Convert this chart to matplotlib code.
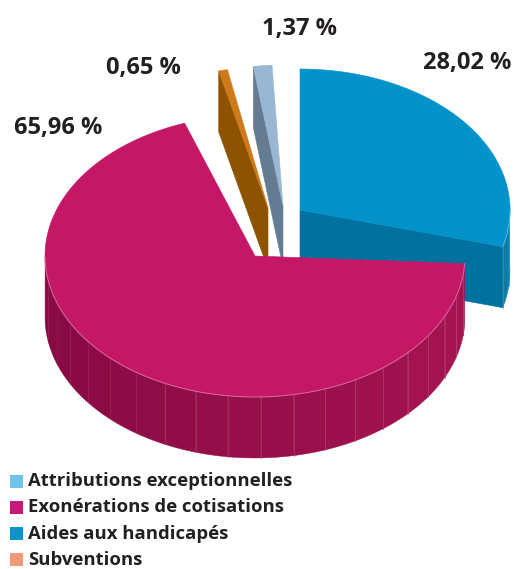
"""Exploded 3D pie: répartition des aides (recreated with plain matplotlib patches)."""

import numpy as np
import matplotlib

matplotlib.use("Agg")
import matplotlib.pyplot as plt
from matplotlib.colors import to_rgb
from matplotlib.patches import Polygon, Rectangle

# data
categories = [
    "Aides aux handicapés",
    "Exonérations de cotisations",
    "Subventions",
    "Attributions exceptionnelles",
]
shares = [28.02, 65.96, 0.65, 1.37]
value_labels = ["28,02 %", "65,96 %", "0,65 %", "1,37 %"]
legend_names = [
    "Attributions exceptionnelles",
    "Exonérations de cotisations",
    "Aides aux handicapés",
    "Subventions",
]
legend_colors = ["#6EC5E8", "#C8197A", "#0A93CE", "#F2997A"]

# pie look (pixels, y grows downward)
CENTER = (280.0, 232.0)
RX, RY, DEPTH = 210.0, 141.0, 61.0
slice_shift = [(20, -22), (-25, 24), (-12, -24), (3, -26)]
slice_fan = [0.0, 12.0, 6.0, 3.0]
top_colors = ["#0392C9", "#C41766", "#CE7A1B", "#99B7D2"]
face_colors = ["#01729F", "#8E0C46", "#8D5300", "#657B92"]
wall_dark = ["#04709A", "#880A43", "#7A4700", "#56697D"]
wall_light = ["#0B7DA8", "#A51451", "#8D5300", "#657B92"]
label_pos = [(467, 63), (58, 128), (143, 68), (300, 29)]

FONT = "Open Sans"
TEXT_COLOR = "#231F20"


def _pt(cx, cy, t_deg, z=0.0):
    t = np.radians(t_deg)
    return cx + RX * np.cos(t), cy - RY * np.sin(t) + z


def _mix(c1, c2, w):
    a, b = np.array(to_rgb(c1)), np.array(to_rgb(c2))
    return tuple(a * (1 - w) + b * w)


def _slice_spans():
    total = float(sum(shares))
    spans = []
    start = 90.0
    for i, value in enumerate(shares):
        width = value / total * 360.0
        hi = start
        lo = start - width
        start = lo
        spans.append((lo + slice_fan[i], hi + slice_fan[i]))
    return spans


def draw_slice(ax, i, lo, hi, z0):
    cx = CENTER[0] + slice_shift[i][0]
    cy = CENTER[1] + slice_shift[i][1]
    apex = (cx, cy)
    apex_low = (cx, cy + DEPTH)
    z = z0

    # radial faces turned toward the viewer
    for t, normal_y in ((lo, -np.cos(np.radians(lo))), (hi, np.cos(np.radians(hi)))):
        if normal_y < -1e-3:
            p = _pt(cx, cy, t)
            q = _pt(cx, cy, t, DEPTH)
            ax.add_patch(Polygon([apex, p, q, apex_low], closed=True,
                                 facecolor=face_colors[i], edgecolor=face_colors[i],
                                 linewidth=0.4, zorder=z))
            z += 1

    # outer wall, front half only, drawn in facets
    ts = np.arange(lo, hi, 9.0)
    ts = np.append(ts, hi)
    for a, b in zip(ts[:-1], ts[1:]):
        mid = 0.5 * (a + b)
        if np.sin(np.radians(mid)) >= 0:
            continue
        arc = np.linspace(a, b, 12)
        upper = [_pt(cx, cy, t) for t in arc]
        lower = [_pt(cx, cy, t, DEPTH) for t in arc[::-1]]
        w = 0.5 * (1 + np.cos(np.radians(mid)))
        col = _mix(wall_dark[i], wall_light[i], w)
        ax.add_patch(Polygon(upper + lower, closed=True, facecolor=col,
                             edgecolor=col, linewidth=0.3, zorder=z))
        if np.cos(np.radians(a)) > -0.5:
            xa, ya = _pt(cx, cy, a)
            ax.plot([xa, xa], [ya, ya + DEPTH], color=_mix(col, "#FFFFFF", 0.18),
                    linewidth=0.5, zorder=z + 0.5)
    z += 1

    # top face
    arc = np.linspace(lo, hi, 200)
    pts = [apex] + [_pt(cx, cy, t) for t in arc]
    ax.add_patch(Polygon(pts, closed=True, facecolor=top_colors[i],
                         edgecolor=top_colors[i], linewidth=0.4, zorder=z))
    z += 1

    # faint rim highlight along the visible front edge
    front = [t for t in arc if np.sin(np.radians(t)) < 0]
    if front:
        xs, ys = zip(*[_pt(cx, cy, t) for t in front])
        ax.plot(xs, ys, color=_mix(top_colors[i], "#FFFFFF", 0.35),
                linewidth=0.7, zorder=z)
    z += 1
    return z


def main():
    fig = plt.figure(figsize=(5.14, 5.69), dpi=100)
    ax = fig.add_axes([0, 0, 1, 1])
    ax.set_xlim(0, 514)
    ax.set_ylim(569, 0)
    ax.axis("off")

    spans = _slice_spans()
    # back to front
    order = sorted(range(len(shares)),
                   key=lambda k: -np.sin(np.radians(0.5 * (spans[k][0] + spans[k][1]))))
    z = 1
    for k in order:
        z = draw_slice(ax, k, spans[k][0], spans[k][1], z)

    for text, (x, y) in zip(value_labels, label_pos):
        ax.text(x, y, text, ha="center", va="center", fontsize=17,
                fontweight="bold", family=FONT, color=TEXT_COLOR, zorder=z)

    # legend
    for row, (name, col) in enumerate(zip(legend_names, legend_colors)):
        y = 481 + row * 26.3
        ax.add_patch(Rectangle((10, y - 6.5), 13, 13, facecolor=col,
                               edgecolor="none", zorder=z))
        ax.text(28, y, name, ha="left", va="center", fontsize=13.3,
                fontweight="bold", family=FONT, color=TEXT_COLOR, zorder=z)

    fig.savefig("out.png", dpi=100)
    plt.close(fig)


if __name__ == "__main__":
    main()
